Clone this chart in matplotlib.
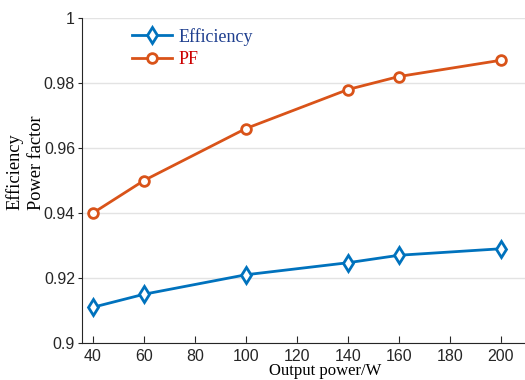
import matplotlib
matplotlib.use("Agg")
import matplotlib.pyplot as plt

power = [40, 60, 100, 140, 160, 200]
efficiency = [0.911, 0.915, 0.921, 0.9247, 0.927, 0.929]
pf = [0.940, 0.950, 0.966, 0.978, 0.982, 0.987]
xticks = [40, 60, 80, 100, 120, 140, 160, 180, 200]
yticks = [0.9, 0.92, 0.94, 0.96, 0.98, 1.0]
ytick_labels = ["0.9", "0.92", "0.94", "0.96", "0.98", "1"]

blue = "#0072BD"
orange = "#D95319"

fig = plt.figure(figsize=(5.25, 3.8), dpi=100)
# axes runs past the right edge, like the cropped original
ax = fig.add_axes([82 / 525, 1 - 343 / 380, 470 / 525, 325 / 380])

ax.plot(power, efficiency, color=blue, lw=2.0, marker="d", ms=8.5,
        mfc="white", mec=blue, mew=2.0, label="Efficiency")
ax.plot(power, pf, color=orange, lw=2.0, marker="o", ms=7,
        mfc="white", mec=orange, mew=2.0, label="PF")

ax.set_xlim(35.7, 220)
ax.set_ylim(0.9, 1.0)
ax.set_xticks(xticks)
ax.set_yticks(yticks)
ax.set_yticklabels(ytick_labels)
ax.grid(axis="y", color="#e3e3e3", lw=1)
ax.set_axisbelow(True)
for side in ["top", "right"]:
    ax.spines[side].set_visible(False)
for side in ["left", "bottom"]:
    ax.spines[side].set_color("#262626")
ax.tick_params(axis="x", direction="in", length=5, colors="#262626",
               labelsize=11.5, pad=4)
ax.tick_params(axis="y", direction="out", length=3, colors="#262626",
               labelsize=11.5, pad=2)
for lbl in ax.get_xticklabels() + ax.get_yticklabels():
    lbl.set_family("Liberation Sans")

# two-line y label, lines start at the same height
fig.text(25 / 525, 1 - 210 / 380, "Efficiency\nPower factor",
         family="Liberation Serif", fontsize=13.2, rotation=90,
         ha="center", va="bottom", multialignment="left", linespacing=1.35)
ax.set_xlabel("Output power/W", family="Liberation Serif", fontsize=12)
ax.xaxis.set_label_coords((325 - 82) / 470, -0.063)

leg = ax.legend(loc="upper left", bbox_to_anchor=(0.072, 1.02), frameon=False,
                prop={"family": "Liberation Serif", "size": 13},
                handlelength=2.2, handletextpad=0.35, labelspacing=0.3)
leg.get_texts()[0].set_color("#1F3F8F")
leg.get_texts()[1].set_color("#CC0000")

fig.savefig("out.png", dpi=100)
